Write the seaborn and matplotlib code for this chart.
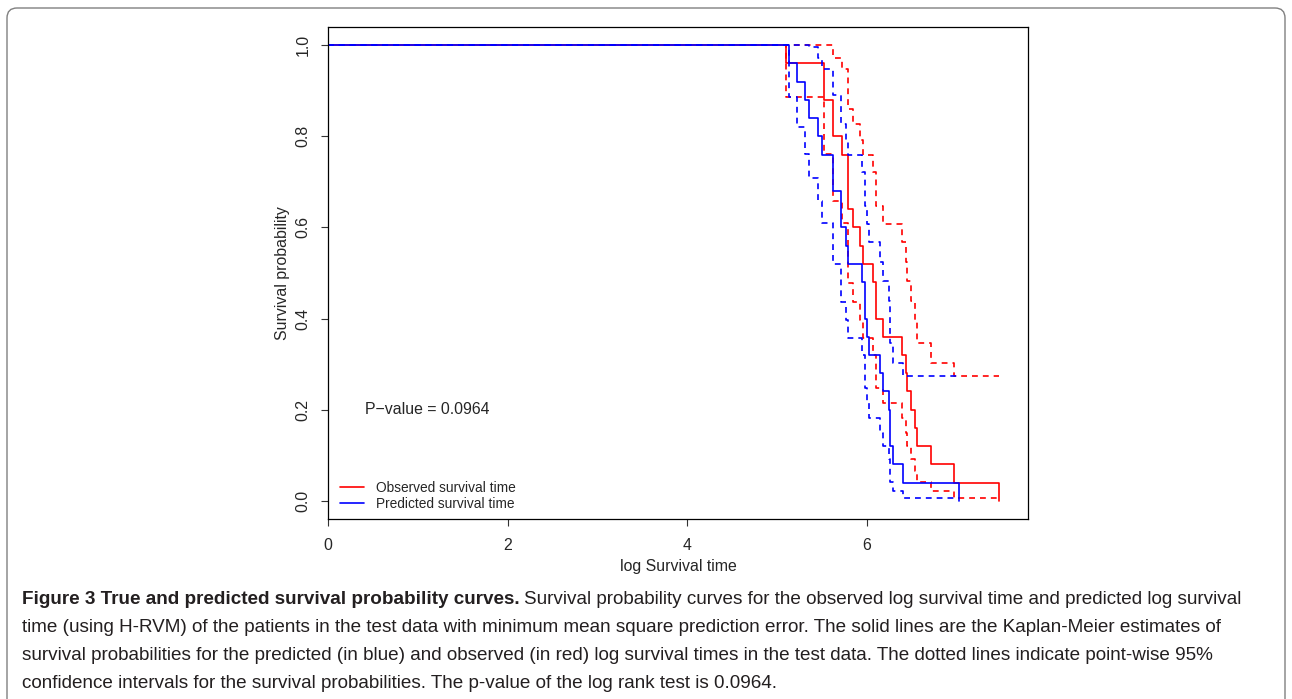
import pandas as pd
import seaborn as sns
import matplotlib.pyplot as plt
from matplotlib.patches import FancyBboxPatch

# Kaplan-Meier steps: event times (log survival time)
# and survival probability right after each event
obs_time = [5.10, 5.53, 5.63, 5.73, 5.79, 5.85, 5.93, 5.96, 6.07, 6.11,
            6.18, 6.40, 6.44, 6.45, 6.50, 6.54, 6.56, 6.72, 6.98, 7.48]
obs_surv = [0.96, 0.88, 0.80, 0.76, 0.64, 0.60, 0.56, 0.52, 0.48, 0.40,
            0.36, 0.32, 0.28, 0.24, 0.20, 0.16, 0.12, 0.08, 0.04, 0.0]
obs_upper = [1.0, 1.0, 0.973, 0.947, 0.859, 0.826, 0.793, 0.758, 0.722, 0.646,
             0.607, 0.567, 0.525, 0.482, 0.438, 0.393, 0.347, 0.302, 0.273]
obs_lower = [0.886, 0.761, 0.658, 0.610, 0.477, 0.436, 0.396, 0.357, 0.319, 0.248,
             0.214, 0.181, 0.149, 0.120, 0.091, 0.065, 0.042, 0.021, 0.006]

pred_time = [5.14, 5.23, 5.32, 5.36, 5.455, 5.50, 5.63, 5.72, 5.77, 5.79, 5.95,
             5.98, 6.00, 6.03, 6.145, 6.18, 6.25, 6.265, 6.29, 6.41, 7.03]
pred_surv = [0.96, 0.92, 0.88, 0.84, 0.80, 0.76, 0.68, 0.60, 0.56, 0.52, 0.48,
             0.40, 0.36, 0.32, 0.28, 0.24, 0.20, 0.12, 0.08, 0.04, 0.0]
pred_upper = [1.0, 1.0, 1.0, 0.997, 0.973, 0.947, 0.890, 0.826, 0.793, 0.758,
              0.722, 0.646, 0.607, 0.567, 0.525, 0.482, 0.438, 0.347, 0.302, 0.273]
pred_lower = [0.886, 0.820, 0.761, 0.708, 0.658, 0.610, 0.520, 0.436, 0.396, 0.357,
              0.319, 0.248, 0.214, 0.181, 0.149, 0.120, 0.091, 0.042, 0.021, 0.006]

x_ticks = [0, 2, 4, 6]
y_ticks = [0.0, 0.2, 0.4, 0.6, 0.8, 1.0]
p_value_text = "P\u2212value = 0.0964"

caption_bold = "Figure 3 True and predicted survival probability curves."
caption_lines = [
    "Survival probability curves for the observed log survival time and predicted log survival",
    "time (using H-RVM) of the patients in the test data with minimum mean square prediction error. The solid lines are the Kaplan-Meier estimates of",
    "survival probabilities for the predicted (in blue) and observed (in red) log survival times in the test data. The dotted lines indicate point-wise 95%",
    "confidence intervals for the survival probabilities. The p-value of the log rank test is 0.0964.",
]


def step_frame(times, values, carry_last=False):
    # curve starts at (0, 1); CI bands keep their last value up to the final event
    x = [0.0] + list(times)
    y = [1.0] + list(values)
    if carry_last:
        y = y + [y[-1]]
    return pd.DataFrame({"time": x, "surv": y})


sns.set_style("ticks")
plt.rcParams["font.family"] = ["Liberation Sans", "DejaVu Sans"]

fig = plt.figure(figsize=(12.92, 6.99), dpi=100)
ax = fig.add_axes([0.2539, 0.2575, 0.5418, 0.7039])

red = "#FF0000"
blue = "#0000FF"
dash = (0, (3.5, 3))

for times, surv, up, lo, col, lab in [
    (obs_time, obs_surv, obs_upper, obs_lower, red, "Observed survival time"),
    (pred_time, pred_surv, pred_upper, pred_lower, blue, "Predicted survival time"),
]:
    sns.lineplot(data=step_frame(times, surv), x="time", y="surv", ax=ax,
                 drawstyle="steps-post", estimator=None, sort=False,
                 color=col, lw=1.2, label=lab)
    for ci in (up, lo):
        sns.lineplot(data=step_frame(times, ci, carry_last=True), x="time", y="surv",
                     ax=ax, drawstyle="steps-post", estimator=None, sort=False,
                     color=col, lw=1.2, linestyle=dash)

ax.set_xlim(0, 7.8)
ax.set_ylim(-0.04, 1.04)
ax.set_xticks(x_ticks)
ax.set_xticklabels([str(t) for t in x_ticks])
ax.set_yticks(y_ticks)
ax.set_yticklabels([f"{t:.1f}" for t in y_ticks], rotation=90, va="center")
ax.tick_params(axis="both", direction="out", length=5, width=0.8, labelsize=11.4,
               color="#333333")
ax.tick_params(axis="x", pad=9)
ax.tick_params(axis="y", pad=7.5)
for s in ax.spines.values():
    s.set_color("black")
    s.set_linewidth(0.9)
ax.set_xlabel("log Survival time", fontsize=11.4, labelpad=4)
ax.set_ylabel("Survival probability", fontsize=11.4, labelpad=4)

ax.text(1.11, 0.2, p_value_text, fontsize=11.4, ha="center", va="center")

ax.legend(loc="lower left", bbox_to_anchor=(0.0, -0.008), frameon=False, fontsize=9.9,
          handlelength=1.8, handletextpad=0.85, labelspacing=0.15,
          borderaxespad=0.45)

# rounded panel border, open at the bottom like the cropped page
border = FancyBboxPatch((7, -20), 1278, 711, boxstyle="round,pad=0,rounding_size=10",
                        transform=None, fill=False, edgecolor="#808080", lw=1)
fig.add_artist(border)

cap_font = ["Liberation Sans", "DejaVu Sans"]
cap_size = 12.0
cap_y = [1 - 600 / 699, 1 - 628 / 699, 1 - 655 / 699, 1 - 683 / 699]
bold = fig.text(22 / 1292, cap_y[0], caption_bold, fontsize=cap_size, fontweight="bold",
                family=cap_font, va="center", ha="left", color="#231f20")
rest = ax.annotate(caption_lines[0], xy=(1, 0.5), xycoords=bold, xytext=(3, 0),
                   textcoords="offset points", fontsize=cap_size, family=cap_font,
                   va="center", ha="left", color="#231f20", annotation_clip=False)
others = []
for line, y in zip(caption_lines[1:], cap_y[1:]):
    others.append(fig.text(22 / 1292, y, line, fontsize=cap_size, family=cap_font,
                           va="center", ha="left", color="#231f20"))

# shrink/grow caption so the first line spans the same width as in the page
fig.canvas.draw()
r = fig.canvas.get_renderer()
width = rest.get_window_extent(r).x1 - bold.get_window_extent(r).x0
scale = (1245 - 22) / width
for t in [bold, rest] + others:
    t.set_fontsize(cap_size * scale)

fig.savefig("out.png", dpi=100)
